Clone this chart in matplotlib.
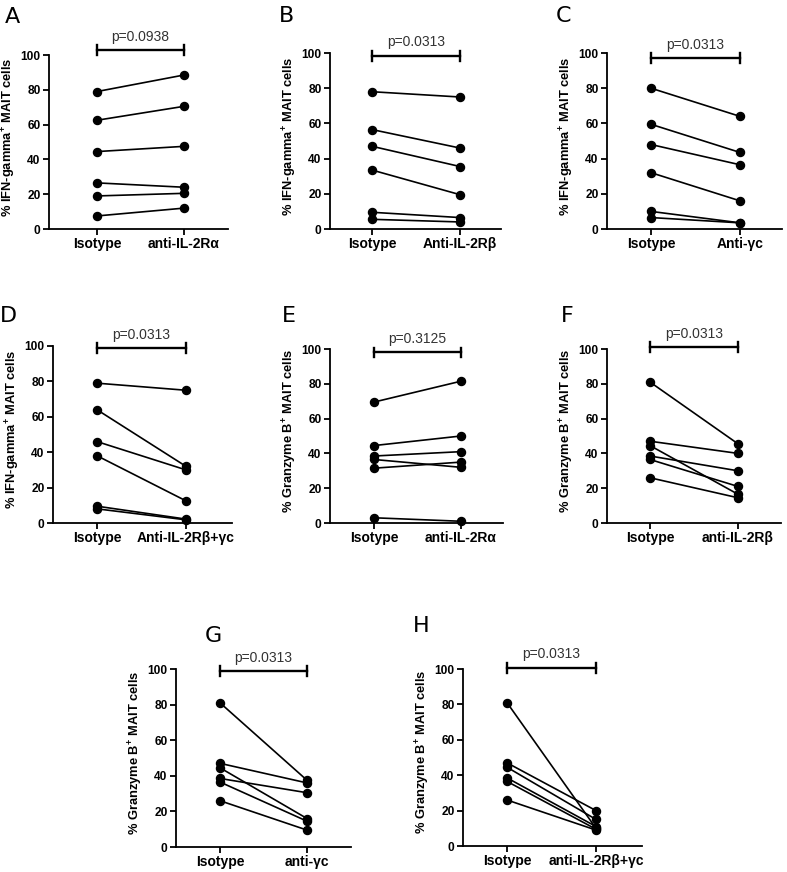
import matplotlib
matplotlib.use("Agg")
import matplotlib.pyplot as plt

plt.rcParams['font.family'] = ['Liberation Sans', 'DejaVu Sans']
plt.rcParams['mathtext.fontset'] = 'custom'
plt.rcParams['mathtext.rm'] = 'Liberation Sans'
plt.rcParams['mathtext.bf'] = 'Liberation Sans:bold'

# panel data: isotype vs treatment, 6 donors each
letters = ['A', 'B', 'C', 'D', 'E', 'F', 'G', 'H']
treatments = ['anti-IL-2Rα', 'Anti-IL-2Rβ', 'Anti-γc', 'Anti-IL-2Rβ+γc',
              'anti-IL-2Rα', 'anti-IL-2Rβ', 'anti-γc', 'anti-IL-2Rβ+γc']
ylabels = ['% IFN-gamma$^{\\mathbf{+}}$ MAIT cells'] * 4 + ['% Granzyme B$^{\\mathbf{+}}$ MAIT cells'] * 4
pvalues = ['p=0.0938', 'p=0.0313', 'p=0.0313', 'p=0.0313',
           'p=0.3125', 'p=0.0313', 'p=0.0313', 'p=0.0313']

iso_A = [79, 62.5, 44.5, 26.5, 19, 7.5]
trt_A = [88.5, 70.5, 47.5, 24, 20.5, 12]
iso_B = [78, 56.5, 47, 33.5, 9.5, 5.5]
trt_B = [75, 46, 35.5, 19.5, 6.5, 4]
iso_C = [80, 59.5, 48, 32, 10, 6.5]
trt_C = [64, 43.5, 36.5, 16, 3.5, 3.5]
iso_D = [79, 64, 46, 38, 9.5, 8]
trt_D = [75, 32, 30, 12.5, 2.2, 1.8]
iso_E = [69.5, 44.5, 38.5, 36.5, 31.5, 3]
trt_E = [81.5, 50, 41, 32, 35, 1]
iso_F = [81, 47, 44.5, 38.5, 36.5, 26]
trt_F = [45.5, 40, 16.5, 30, 21, 14.5]
iso_G = [81, 47, 44.5, 38.5, 36.5, 26]
trt_G = [37.5, 36, 16, 30.5, 14.5, 9.5]
iso_H = [81, 47, 44.5, 38.5, 36.5, 26]
trt_H = [10, 20, 15, 11, 9.5, 9]

isos = [iso_A, iso_B, iso_C, iso_D, iso_E, iso_F, iso_G, iso_H]
trts = [trt_A, trt_B, trt_C, trt_D, trt_E, trt_F, trt_G, trt_H]

W, H = 787, 872
fig = plt.figure(figsize=(W / 100, H / 100), dpi=100)

# layout in pixels: left spine, isotype x, treatment x, right end, top (100), bottom (0)
boxes = [(49, 97, 184, 228, 55, 229),
         (330, 372, 460, 501, 53, 229),
         (607, 651, 740, 782, 53, 229),
         (53, 97, 186, 232, 346, 523),
         (330, 374, 461, 503, 349, 523),
         (607, 650, 738, 781, 349, 523),
         (176, 220, 307, 351, 669, 847),
         (463, 507, 596, 642, 669, 846)]
bracket_y = [103, 98.5, 97.3, 98.7, 98, 101, 98.9, 100.8]
letter_pos = [(5, 23), (279, 22), (556, 22), (0, 322), (282, 322), (561, 322), (205, 642), (413, 632)]

for i in range(8):
    l, xi, xa, r, yt, yb = boxes[i]
    ax = fig.add_axes([l / W, (H - yb) / H, (r - l) / W, (yb - yt) / H])
    sp = xa - xi
    ax.set_xlim((l - xi) / sp, (r - xi) / sp)
    ax.set_ylim(0, 100)

    for a, b in zip(isos[i], trts[i]):
        ax.plot([0, 1], [a, b], color='black', lw=1.2, marker='o', ms=5.8,
                clip_on=False, zorder=3)

    # significance bracket
    by = bracket_y[i]
    ax.plot([0, 1], [by, by], color='black', lw=1.7, clip_on=False)
    ax.plot([0, 0], [by - 2.8, by + 2.8], color='black', lw=1.7, clip_on=False)
    ax.plot([1, 1], [by - 2.8, by + 2.8], color='black', lw=1.7, clip_on=False)
    ax.text(0.5, by + 7.5, pvalues[i], ha='center', va='center', fontsize=10, color='#333333')

    ax.spines['top'].set_visible(False)
    ax.spines['right'].set_visible(False)
    ax.spines['left'].set_linewidth(1.3)
    ax.spines['bottom'].set_linewidth(1.3)
    ax.set_yticks([0, 20, 40, 60, 80, 100])
    ax.set_xticks([0, 1])
    ax.set_xticklabels(['Isotype', treatments[i]], fontweight='bold', fontsize=10)
    for t in ax.get_yticklabels():
        t.set_fontweight('bold')
        t.set_fontsize(8.6)
    ax.tick_params(width=1.3, length=4, pad=2)
    ax.set_ylabel(ylabels[i], fontweight='bold', fontsize=9.3)
    ax.yaxis.set_label_coords(-31 / (r - l), 0.53)

    fig.text(letter_pos[i][0] / W, (H - letter_pos[i][1]) / H, letters[i],
             fontsize=16, family='DejaVu Sans', ha='left', va='baseline')

fig.savefig('out.png', dpi=100)
